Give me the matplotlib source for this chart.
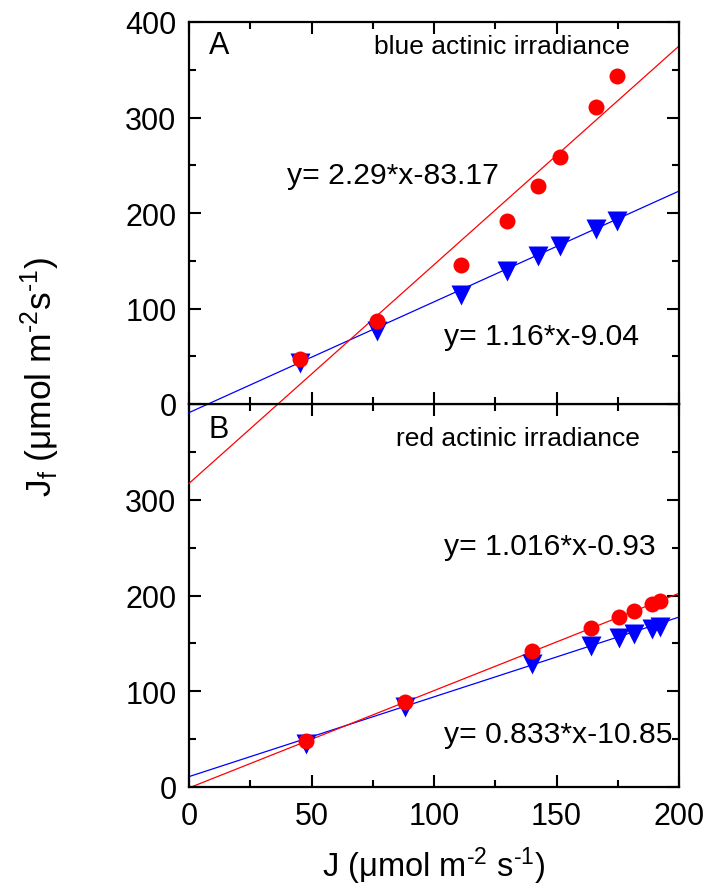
import matplotlib
matplotlib.use("Agg")
import matplotlib.pyplot as plt
import numpy as np
from matplotlib.ticker import MultipleLocator

plt.rcParams["font.family"] = ["Liberation Sans", "DejaVu Sans"]
plt.rcParams["mathtext.default"] = "regular"

# panel A: blue actinic irradiance
J_blue = [45.3, 76.6, 111.0, 129.8, 142.3, 151.4, 166.1, 174.8]
Jf_blue_circ = [47.1, 86.6, 145.9, 191.9, 228.6, 258.3, 311.3, 343.5]
Jf_blue_tri = [42.9, 76.8, 114.5, 139.6, 155.3, 165.8, 183.2, 191.9]
fit_blue_circ = (2.29, -83.17)
fit_blue_tri = (1.16, -9.04)

# panel B: red actinic irradiance
J_red = [47.8, 88.2, 140.1, 164.1, 175.6, 181.6, 188.9, 192.2]
Jf_red_circ = [48.4, 89.1, 141.7, 166.1, 177.5, 184.1, 191.4, 194.6]
Jf_red_tri = [44.9, 83.2, 128.5, 147.6, 155.3, 159.8, 165.0, 166.8]
fit_red_circ = (1.016, -0.93)
fit_red_tri = (0.833, 10.85)

FS = 22
W, H = 707, 895
fig = plt.figure(figsize=(W / 100, H / 100), dpi=100)

left, right = 189 / W, 679 / W
y_top, y_mid, y_bot = 23, 405, 788
ax_b = fig.add_axes([left, 1 - y_bot / H, right - left, (y_bot - y_mid) / H])
ax_a = fig.add_axes([left, 1 - y_mid / H, right - left, (y_mid - y_top) / H])

xfit = np.array([0, 200])


def style(ax):
    ax.set_xlim(0, 200)
    ax.set_ylim(0, 400)
    ax.xaxis.set_major_locator(MultipleLocator(50))
    ax.xaxis.set_minor_locator(MultipleLocator(25))
    ax.yaxis.set_major_locator(MultipleLocator(100))
    ax.yaxis.set_minor_locator(MultipleLocator(50))
    ax.tick_params(which="both", direction="in", top=True, right=True,
                   width=1.5, labelsize=FS)
    ax.tick_params(which="major", length=8.5, pad=9)
    ax.tick_params(which="minor", length=5)
    for sp in ax.spines.values():
        sp.set_linewidth(1.6)


def panel(ax, x, yc, yt, fc, ft, clip):
    ax.plot(xfit, ft[0] * xfit + ft[1], color="#0000ff", lw=0.9, clip_on=clip, zorder=2)
    ax.plot(xfit, fc[0] * xfit + fc[1], color="#ff0000", lw=0.9, clip_on=clip, zorder=2)
    ax.plot(x, yt, "v", color="#0000ff", ms=14, mec="none", zorder=3)
    ax.plot(x, yc, "o", color="#ff0000", ms=11.5, mec="none", zorder=4)


style(ax_a)
style(ax_b)
panel(ax_a, J_blue, Jf_blue_circ, Jf_blue_tri, fit_blue_circ, fit_blue_tri, False)
panel(ax_b, J_red, Jf_red_circ, Jf_red_tri, fit_red_circ, fit_red_tri, True)

ax_a.tick_params(labelbottom=False)
ax_b.set_yticks([0, 100, 200, 300, 400])
ax_b.set_yticklabels(["0", "100", "200", "300", ""])
ax_b.tick_params(axis="x", pad=10)

ax_a.text(8, 368, "A", fontsize=FS)
ax_a.text(180, 375, "blue actinic irradiance", fontsize=19, ha="right", va="center")
ax_a.text(40, 240, "y= 2.29*x-83.17", fontsize=21.7, va="center")
ax_a.text(104, 71, "y= 1.16*x-9.04", fontsize=21.7, va="center")

ax_b.text(8, 366, "B", fontsize=FS)
ax_b.text(184, 365, "red actinic irradiance", fontsize=19, ha="right", va="center")
ax_b.text(104, 252, "y= 1.016*x-0.93", fontsize=21.7, va="center")
ax_b.text(104, 55, "y= 0.833*x-10.85", fontsize=21.7, va="center")

fig.text(40 / W, 1 - 377 / H, "J$_f$ (μmol m$^{\u20102}$s$^{\u20101}$)", fontsize=25.5,
         rotation=90, ha="center", va="center")
fig.text((left + right) / 2, 1 - 866 / H, "J (μmol m$^{\u20102}$ s$^{\u20101}$)", fontsize=23.5,
         ha="center", va="center")

fig.savefig("out.png", dpi=100)
